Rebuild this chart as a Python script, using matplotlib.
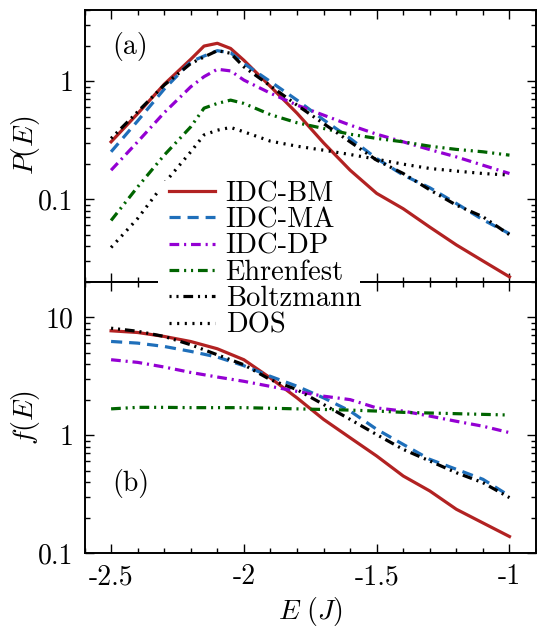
import matplotlib
matplotlib.use("Agg")
import matplotlib.pyplot as plt
from matplotlib.patches import Rectangle
from matplotlib.ticker import FixedLocator, FixedFormatter, MultipleLocator, LogLocator, NullFormatter

plt.rcParams['font.family'] = ['cmr10', 'DejaVu Serif']
plt.rcParams['mathtext.fontset'] = 'cm'
plt.rcParams['axes.unicode_minus'] = False
plt.rcParams['axes.formatter.use_mathtext'] = True
plt.rcParams['lines.scale_dashes'] = False

# energy grid of the distributions P(E)
E_top = [-2.5, -2.4, -2.3, -2.2, -2.15, -2.1, -2.05, -2.0, -1.9, -1.8,
         -1.7, -1.6, -1.5, -1.4, -1.3, -1.2, -1.1, -1.0]
P_bm = [0.306, 0.53, 0.94, 1.53, 1.98, 2.09, 1.89, 1.50, 0.90, 0.535,
        0.30, 0.176, 0.112, 0.083, 0.058, 0.041, 0.030, 0.022]
P_ma = [0.252, 0.46, 0.855, 1.46, 1.63, 1.81, 1.74, 1.41, 0.99, 0.69,
        0.47, 0.327, 0.221, 0.16, 0.125, 0.092, 0.067, 0.051]
P_dp = [0.176, 0.306, 0.54, 0.895, 1.09, 1.26, 1.22, 1.02, 0.79, 0.626,
        0.515, 0.424, 0.355, 0.306, 0.263, 0.228, 0.194, 0.165]
P_ehr = [0.066, 0.127, 0.236, 0.41, 0.59, 0.647, 0.69, 0.647, 0.52, 0.444,
         0.397, 0.355, 0.327, 0.306, 0.281, 0.264, 0.252, 0.236]
P_boltz = [0.327, 0.55, 0.925, 1.41, 1.6, 1.81, 1.72, 1.32, 0.91, 0.626,
           0.437, 0.306, 0.214, 0.165, 0.12, 0.089, 0.071, 0.05]
P_dos = [0.039, 0.0686, 0.136, 0.252, 0.35, 0.384, 0.405, 0.372, 0.31, 0.281,
         0.26, 0.239, 0.218, 0.198, 0.182, 0.173, 0.165, 0.16]

# occupation f(E)
E_bot = [-2.5, -2.4, -2.3, -2.2, -2.1, -2.0, -1.9, -1.8,
         -1.7, -1.6, -1.5, -1.4, -1.3, -1.2, -1.1, -1.0]
f_bm = [7.67, 7.42, 6.87, 6.22, 5.4, 4.36, 3.05, 2.07,
        1.36, 0.95, 0.665, 0.45, 0.336, 0.235, 0.18, 0.138]
f_ma = [6.23, 6.03, 5.65, 5.13, 4.59, 3.88, 3.15, 2.6,
        2.07, 1.6, 1.12, 0.834, 0.623, 0.513, 0.422, 0.305]
f_dp = [4.36, 4.14, 3.78, 3.4, 3.11, 2.86, 2.59, 2.35,
        2.14, 2.0, 1.7, 1.6, 1.45, 1.31, 1.19, 1.05]
f_ehr = [1.67, 1.72, 1.72, 1.71, 1.71, 1.71, 1.69, 1.67,
         1.65, 1.63, 1.6, 1.56, 1.54, 1.52, 1.5, 1.48]
f_boltz = [8.07, 7.6, 6.87, 5.84, 4.8, 3.95, 2.95, 2.43,
           1.82, 1.36, 1.01, 0.757, 0.603, 0.48, 0.395, 0.295]

labels = ['IDC-BM', 'IDC-MA', 'IDC-DP', 'Ehrenfest', 'Boltzmann', 'DOS']
x_ticks = [-2.5, -2.0, -1.5, -1.0]
x_ticklabels = ['-2.5', '-2', '-1.5', '-1']

lw = 2.3
styles = {
    'IDC-BM': dict(color='#b22222', ls='-'),
    'IDC-MA': dict(color='#1f6fba', ls=(0, (8, 5))),
    'IDC-DP': dict(color='#9400d3', ls=(0, (7, 3.5, 1.5, 3.5))),
    'Ehrenfest': dict(color='#006400', ls=(0, (7, 3.5, 1.5, 3.5, 1.5, 3.5))),
    'Boltzmann': dict(color='black', ls=(0, (1.5, 3.5, 1.5, 3.5, 7, 3.5))),
    'DOS': dict(color='black', ls=(0, (1.5, 4))),
}

fig = plt.figure(figsize=(5.37, 6.29), dpi=100)
ax1 = fig.add_axes([0.1574, 0.5521, 0.8408, 0.4320])
ax2 = fig.add_axes([0.1574, 0.1208, 0.8408, 0.4313])

top_series = [P_bm, P_ma, P_dp, P_ehr, P_boltz, P_dos]
for lab, y in zip(labels, top_series):
    ax1.plot(E_top, y, lw=lw, label=lab, **styles[lab])

bot_series = [f_bm, f_ma, f_dp, f_ehr, f_boltz]
for lab, y in zip(labels[:5], bot_series):
    ax2.plot(E_bot, y, lw=lw, **styles[lab])

for ax in (ax1, ax2):
    ax.set_yscale('log')
    ax.set_xlim(-2.6, -0.9)
    ax.xaxis.set_major_locator(FixedLocator(x_ticks))
    ax.xaxis.set_minor_locator(MultipleLocator(0.1))
    ax.yaxis.set_minor_locator(LogLocator(base=10, subs=range(2, 10)))
    ax.yaxis.set_minor_formatter(NullFormatter())
    ax.tick_params(which='both', direction='in', top=True, right=True,
                   width=1.0, labelsize=20)
    ax.tick_params(which='major', length=6.5, pad=8)
    ax.tick_params(which='minor', length=3.6)
    for sp in ax.spines.values():
        sp.set_linewidth(1.4)

ax1.set_ylim(0.02, 4.0)
ax1.yaxis.set_major_locator(FixedLocator([0.1, 1]))
ax1.yaxis.set_major_formatter(FixedFormatter(['0.1', '1']))
ax1.tick_params(labelbottom=False)
ax1.set_ylabel(r'$P(E)$', fontsize=20)
ax1.yaxis.set_label_coords(-0.095, 0.5)
ax1.text(0.061, 0.866, '(a)', transform=ax1.transAxes, fontsize=20,
         ha='left', va='center')

ax2.set_ylim(0.1, 20)
ax2.yaxis.set_major_locator(FixedLocator([0.1, 1, 10]))
ax2.yaxis.set_major_formatter(FixedFormatter(['0.1', '1', '10']))
ax2.xaxis.set_major_formatter(FixedFormatter(x_ticklabels))
ax2.set_ylabel(r'$f(E)$', fontsize=20)
ax2.yaxis.set_label_coords(-0.095, 0.5)
ax2.set_xlabel(r'$E\ (J)$', fontsize=20, labelpad=3)
ax2.text(0.061, 0.258, '(b)', transform=ax2.transAxes, fontsize=20,
         ha='left', va='center')

# white key box spanning both panels
key_bg = Rectangle((0.2942, 0.4722), 0.3762, 0.2400, transform=fig.transFigure,
                   facecolor='white', edgecolor='none', zorder=9)
fig.patches.append(key_bg)

handles, labs = ax1.get_legend_handles_labels()
leg = fig.legend(handles, labs, loc='center', bbox_to_anchor=(0.494, 0.587),
                 fontsize=20.5, frameon=False, handlelength=1.61,
                 handletextpad=0.37, labelspacing=0.0, borderpad=0.08)
leg.set_zorder(10)

fig.savefig('out.png', dpi=100)
